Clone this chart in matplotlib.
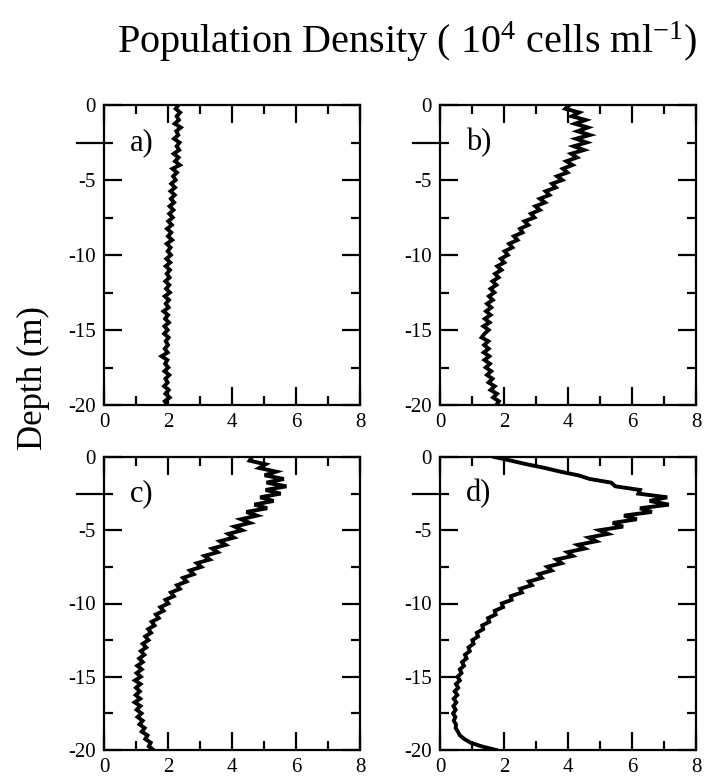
import numpy as np
import matplotlib
matplotlib.use("Agg")
import matplotlib.pyplot as plt
from matplotlib.ticker import MultipleLocator

plt.rcParams['font.family'] = ['Liberation Serif', 'DejaVu Serif']
plt.rcParams['mathtext.fontset'] = 'custom'
plt.rcParams['mathtext.rm'] = 'Liberation Serif'
plt.rcParams['mathtext.it'] = 'Liberation Serif:italic'

# density profiles (10^4 cells/ml), sampled every 0.25 m from 0 to -20 m
dens_a = [2.33, 2.24, 2.38, 2.27, 2.34, 2.21, 2.40, 2.26, 2.32, 2.19, 2.36,
          2.27, 2.35, 2.18, 2.33, 2.22, 2.37, 2.14, 2.28, 2.16, 2.24,
          2.10, 2.22, 2.08, 2.21, 2.09, 2.19, 2.05, 2.17, 2.04, 2.15,
          2.01, 2.12, 1.97, 2.10, 2.00, 2.13, 1.96, 2.08, 1.99, 2.09,
          1.95, 2.07, 1.93, 2.06, 1.96, 2.05, 1.92, 2.04, 1.94, 2.06,
          1.90, 2.03, 1.93, 2.02, 1.86, 2.00, 1.91, 2.03, 1.89, 1.99,
          1.88, 2.02, 1.93, 2.00, 1.90, 1.99, 1.80, 1.98, 1.91, 2.01,
          1.89, 2.04, 1.92, 1.99, 1.88, 2.02, 1.92, 2.05, 1.90, 1.98]

dens_b = [4.05, 3.92, 4.35, 4.12, 4.55, 4.22, 4.62, 4.30, 4.68, 4.25, 4.58,
          4.18, 4.50, 4.10, 4.28, 3.95, 4.14, 3.84, 3.98, 3.66, 3.82,
          3.50, 3.62, 3.30, 3.42, 3.12, 3.28, 2.98, 3.12, 2.84, 2.95,
          2.64, 2.76, 2.50, 2.58, 2.31, 2.42, 2.16, 2.26, 2.02, 2.12,
          1.90, 2.01, 1.79, 1.92, 1.72, 1.83, 1.64, 1.76, 1.58, 1.70,
          1.53, 1.65, 1.47, 1.60, 1.44, 1.58, 1.40, 1.55, 1.36, 1.52,
          1.39, 1.30, 1.51, 1.38, 1.52, 1.37, 1.54, 1.39, 1.56, 1.43,
          1.60, 1.47, 1.64, 1.52, 1.71, 1.58, 1.78, 1.66, 1.84, 1.76]

dens_c = [4.62, 4.55, 5.05, 4.85, 5.38, 5.02, 5.62, 5.08, 5.70, 5.05, 5.52,
          4.88, 5.30, 4.70, 5.10, 4.45, 4.78, 4.28, 4.56, 4.08, 4.32,
          3.88, 4.06, 3.62, 3.80, 3.38, 3.55, 3.14, 3.30, 2.90, 3.04,
          2.68, 2.80, 2.47, 2.58, 2.28, 2.37, 2.09, 2.18, 1.92, 2.01,
          1.76, 1.86, 1.62, 1.71, 1.49, 1.58, 1.38, 1.47, 1.29, 1.39,
          1.21, 1.32, 1.15, 1.26, 1.10, 1.21, 1.04, 1.18, 1.02, 1.15,
          0.97, 1.14, 1.00, 1.12, 0.99, 1.13, 0.96, 1.14, 1.02, 1.17,
          1.05, 1.21, 1.11, 1.27, 1.18, 1.36, 1.29, 1.46, 1.40, 1.55]

dens_d = [1.70, 2.22, 2.72, 3.28, 3.76, 4.32, 4.68, 5.35, 5.48, 6.25, 6.20,
          7.10, 6.55, 7.15, 6.25, 6.62, 5.75, 6.15, 5.40, 5.72, 4.98,
          5.25, 4.65, 4.88, 4.30, 4.52, 3.98, 4.15, 3.64, 3.80, 3.35,
          3.49, 3.08, 3.18, 2.78, 2.87, 2.50, 2.56, 2.21, 2.24, 1.93,
          1.97, 1.71, 1.74, 1.50, 1.54, 1.32, 1.35, 1.15, 1.19, 1.01,
          1.05, 0.89, 0.93, 0.78, 0.83, 0.69, 0.75, 0.62, 0.67, 0.55,
          0.62, 0.50, 0.57, 0.46, 0.54, 0.43, 0.51, 0.42, 0.49, 0.41,
          0.48, 0.43, 0.50, 0.49, 0.56, 0.62, 0.76, 0.95, 1.30, 1.75]

panel_labels = ['a)', 'b)', 'c)', 'd)']
profiles = [dens_a, dens_b, dens_c, dens_d]

W, H = 705, 778
fig = plt.figure(figsize=(W / 100, H / 100), dpi=100)

# axes boxes in pixels: left, top, right, bottom
boxes = [(104, 105, 360, 405), (440, 105, 696, 405),
         (104, 457, 360, 750), (440, 457, 696, 750)]

for box, dens, lab in zip(boxes, profiles, panel_labels):
    l, t, r, b = box
    ax = fig.add_axes([l / W, 1 - b / H, (r - l) / W, (b - t) / H])
    depth = np.linspace(0, -20, len(dens))
    ax.plot(dens, depth, color='black', lw=2.8, solid_joinstyle='miter')
    ax.set_xlim(0, 8)
    ax.set_ylim(-20, 0)
    ax.xaxis.set_major_locator(MultipleLocator(2))
    ax.xaxis.set_minor_locator(MultipleLocator(1))
    ax.yaxis.set_major_locator(MultipleLocator(5))
    ax.yaxis.set_minor_locator(MultipleLocator(2.5))
    ax.tick_params(which='both', direction='in', top=True, right=True,
                   width=1.6, labelsize=15, pad=6)
    ax.tick_params(which='major', length=13)
    ax.tick_params(which='minor', length=6.5)
    for s in ax.spines.values():
        s.set_linewidth(1.6)
    ax.set_yticks([0, -5, -10, -15, -20])
    ax.set_yticklabels(['0', '-5', '-10', '-15', '-20'])
    # outer dash at -2.5 m
    ax.axhline(-2.5, xmin=-0.105, xmax=0.0, color='black', lw=1.6, clip_on=False)
    ax.text(0.8, -2.5, lab, fontsize=22, va='center', ha='left')

fig.text(0.578, 1 - 53 / H, r'Population Density ( $10^4$ cells ml$^{-1}$)',
         fontsize=29, ha='center', va='baseline')
fig.text(33 / W, 1 - 378 / H, 'Depth (m)', fontsize=25, rotation=90,
         ha='center', va='center')

fig.savefig('out.png', dpi=100)
